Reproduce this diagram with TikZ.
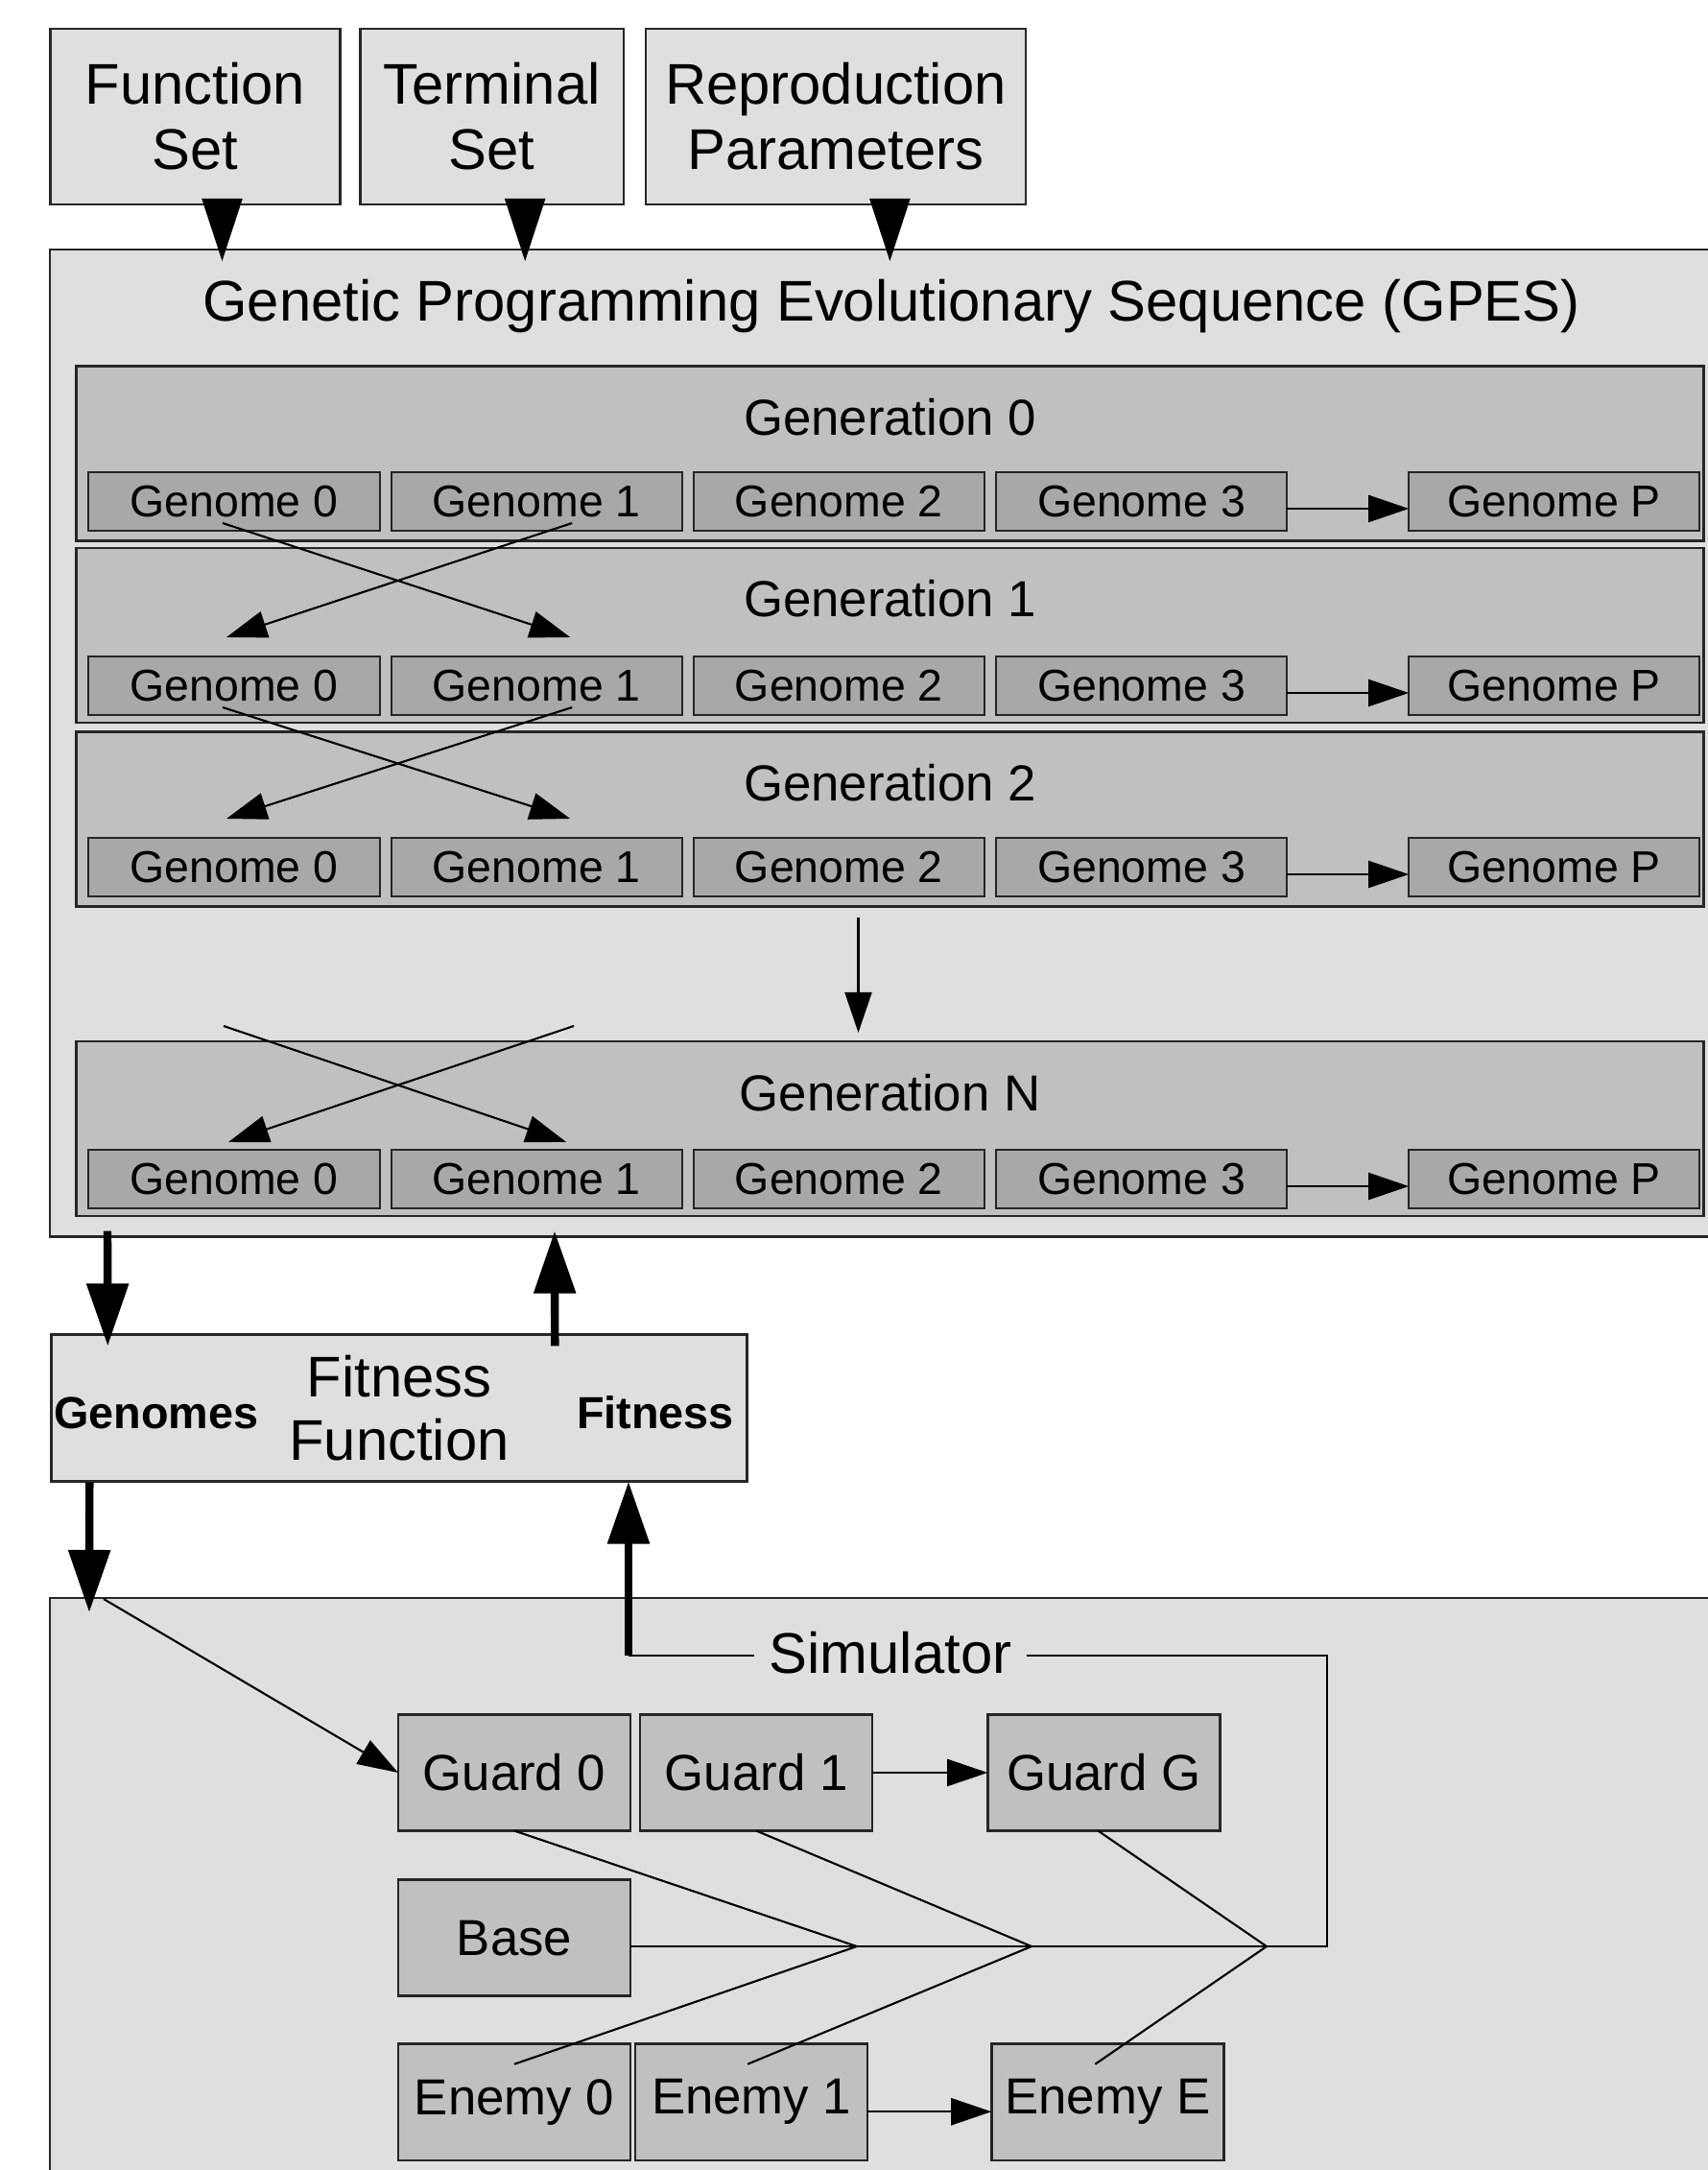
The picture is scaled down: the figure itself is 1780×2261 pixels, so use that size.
\documentclass[tikz,border=0pt]{standalone}
\usepackage{fontspec}
\setmainfont{Liberation Sans}
\usetikzlibrary{arrows.meta,positioning,calc}

\definecolor{panelgray}{HTML}{DFDFDF}
\definecolor{gengray}{HTML}{C0C0C0}
\definecolor{genomegray}{HTML}{A8A8A8}

\begin{document}
\begin{tikzpicture}[
    x=0.01cm, y=-0.01cm,
    panel/.style={rectangle, draw=black!85, fill=panelgray, line width=0.7pt, inner sep=0pt, outer sep=0pt},
    inbox/.style={panel, minimum height=1.83cm, align=center, font={\fontsize{17pt}{19.3pt}\selectfont}},
    genbox/.style={rectangle, draw=black!85, fill=gengray, line width=0.7pt, outer sep=0pt, minimum width=16.95cm, minimum height=1.82cm},
    gentitle/.style={font={\fontsize{15pt}{18pt}\selectfont}},
    genome/.style={rectangle, draw=black!85, fill=genomegray, line width=0.6pt, minimum width=3.03cm, minimum height=0.61cm, inner sep=0pt, outer sep=0pt, font={\fontsize{13.2pt}{15pt}\selectfont}},
    unit/.style={rectangle, draw=black!85, fill=gengray, line width=0.7pt, minimum width=2.42cm, minimum height=1.21cm, inner sep=0pt, outer sep=0pt, font={\fontsize{15pt}{18pt}\selectfont}},
    port/.style={font={\fontsize{13.3pt}{16pt}\selectfont\bfseries}},
    arrow/.style={-{Triangle[length=12pt, width=8pt]}, line width=0.6pt},
    wire/.style={line width=0.6pt},
    bigarrow/.style={-{Triangle[length=18.5pt, width=12pt]}, line width=2.4pt},
    bigtip/.style={-{Triangle[length=18.5pt, width=12pt]}, line width=0.4pt}
]
\useasboundingbox (0,0) rectangle (1780,2261);
\clip (0,0) rectangle (1780,2261);

% inputs
\node[inbox, minimum width=3.02cm] (fs) at (203.5,121.5) {Function\\Set};
\node[inbox, minimum width=2.74cm, right=0.21cm of fs] (ts) {Terminal\\Set};
\node[inbox, minimum width=3.96cm, right=0.23cm of ts] (rp) {Reproduction\\Parameters};

% GPES
\node[panel, anchor=north west, minimum width=17.6cm, minimum height=10.28cm] (gpes) at (52,260) {};
\node[font={\fontsize{17pt}{20pt}\selectfont}] (gpestitle) at (929,319) {Genetic Programming Evolutionary Sequence (GPES)};

\draw[bigtip] ($(fs.south)+(28,-6)$) -- ($(fs.south)+(28,59)$);
\draw[bigtip] ($(ts.south)+(34.5,-6)$) -- ($(ts.south)+(34.5,59)$);
\draw[bigtip] ($(rp.south)+(56.5,-6)$) -- ($(rp.south)+(56.5,59)$);

% generation 0
\node[genbox] (gen0) at (927.5,472.5) {};
\node[gentitle] (t0) at ($(gen0.north)+(0,53)$) {Generation 0};
\node[genome] (g00) at (244,522.5) {Genome 0};
\node[genome, right=0.12cm of g00] (g01) {Genome 1};
\node[genome, right=0.12cm of g01] (g02) {Genome 2};
\node[genome, right=0.12cm of g02] (g03) {Genome 3};
\node[genome, right=1.27cm of g03] (g0p) {Genome P};

% generation 1
\node[genbox] (gen1) at (927.5,662) {};
\node[gentitle] (t1) at ($(gen1.north)+(0,53)$) {Generation 1};
\node[genome] (g10) at (244,714.5) {Genome 0};
\node[genome, right=0.12cm of g10] (g11) {Genome 1};
\node[genome, right=0.12cm of g11] (g12) {Genome 2};
\node[genome, right=0.12cm of g12] (g13) {Genome 3};
\node[genome, right=1.27cm of g13] (g1p) {Genome P};

% generation 2
\node[genbox] (gen2) at (927.5,853.5) {};
\node[gentitle] (t2) at ($(gen2.north)+(0,53)$) {Generation 2};
\node[genome] (g20) at (244,903.5) {Genome 0};
\node[genome, right=0.12cm of g20] (g21) {Genome 1};
\node[genome, right=0.12cm of g21] (g22) {Genome 2};
\node[genome, right=0.12cm of g22] (g23) {Genome 3};
\node[genome, right=1.27cm of g23] (g2p) {Genome P};

% generation N
\node[genbox] (genn) at (927.5,1176) {};
\node[gentitle] (tn) at ($(genn.north)+(0,54)$) {Generation N};
\node[genome] (gn0) at (244,1228.5) {Genome 0};
\node[genome, right=0.12cm of gn0] (gn1) {Genome 1};
\node[genome, right=0.12cm of gn1] (gn2) {Genome 2};
\node[genome, right=0.12cm of gn2] (gn3) {Genome 3};
\node[genome, right=1.27cm of gn3] (gnp) {Genome P};

\draw[arrow] ([yshift=-0.075cm]g03.east) -- ([yshift=-0.075cm]g0p.west);
\draw[arrow] ([yshift=-0.075cm]g13.east) -- ([yshift=-0.075cm]g1p.west);
\draw[arrow] ([yshift=-0.075cm]g23.east) -- ([yshift=-0.075cm]g2p.west);
\draw[arrow] ([yshift=-0.075cm]gn3.east) -- ([yshift=-0.075cm]gnp.west);

% crossover
\draw[arrow] ($(g00.south)+(-12,-8)$) -- ($(g11.north)+(35,-20)$);
\draw[arrow] ($(g01.south)+(37,-8)$) -- ($(g10.north)+(-8,-20)$);
\draw[arrow] ($(g10.south)+(-12,-8)$) -- ($(g21.north)+(35,-20)$);
\draw[arrow] ($(g11.south)+(37,-8)$) -- ($(g20.north)+(-8,-20)$);
\coordinate (xa) at (233,1069);
\coordinate (xb) at (598,1069);
\draw[arrow] (xa) -- ($(gn1.north)+(31,-8)$);
\draw[arrow] (xb) -- ($(gn0.north)+(-6,-8)$);
\draw[arrow] ($(gen2.south)+(-33,11)$) -- ($(genn.north)+(-33,-9)$);

% fitness function
\node[panel, minimum width=7.25cm, minimum height=1.53cm, align=center, font={\fontsize{17pt}{18.9pt}\selectfont}] (fit) at (416,1467) {Fitness\\Function};
\node[port] (inlab) at (163,1472) {Genomes};
\node[port] (outlab) at (683,1472) {Fitness};
\draw[bigarrow] ($(gpes.south west)+(60,-6)$) -- ($(fit.north west)+(59,12)$);
\draw[bigarrow] ($(fit.north west)+(525,12)$) -- ($(gpes.south west)+(526,-6)$);

% simulator
\node[panel, anchor=north west, minimum width=17.6cm, minimum height=7cm] (sim) at (52,1665) {};
\node[unit] (guard0) at (536,1847) {Guard 0};
\node[unit, right=0.1cm of guard0] (guard1) {Guard 1};
\node[unit, right=1.2cm of guard1] (guardg) {Guard G};
\node[unit, below=0.51cm of guard0] (base) {Base};
\node[unit, below=0.5cm of base] (enemy0) {Enemy 0};
\node[unit, right=0.05cm of enemy0] (enemy1) {Enemy 1};
\node[unit, right=1.29cm of enemy1] (enemye) {Enemy E};
\node[font={\fontsize{17pt}{20pt}\selectfont}, inner sep=0.15cm] (simlab) at (928,1722) {Simulator};

\draw[bigarrow] ($(fit.south west)+(40,1)$) -- ($(sim.north west)+(41,15)$);
\draw[arrow] ($(sim.north west)+(56,1)$) -- (guard0.west);
\draw[arrow] (guard1.east) -- (guardg.west);
\draw[arrow] ([yshift=-0.1cm]enemy1.east) -- ([yshift=-0.1cm]enemye.west);

\coordinate (j1) at (893,2028);
\coordinate (j2) at (1075,2028);
\coordinate (j3) at (1320,2028);
\coordinate (corner) at (1383,2028);
\coordinate (ret) at (655,1725);
\draw[wire] (guard0.south) -- (j1) -- ($(enemy0.north)+(0,21)$);
\draw[wire] (guard1.south) -- (j2) -- ($(enemy1.north)+(-4,21)$);
\draw[wire] ($(guardg.south)+(-6,0)$) -- (j3) -- ($(enemye.north)+(-13,21)$);
\draw[wire] (base.east |- j1) -- (j1) -- (j2) -- (j3) -- (corner) |- (ret -| simlab.east);
\draw[wire] (simlab.west |- ret) -- (ret);
\draw[bigarrow] (ret) -- (fit.south -| ret);
\end{tikzpicture}
\end{document}
